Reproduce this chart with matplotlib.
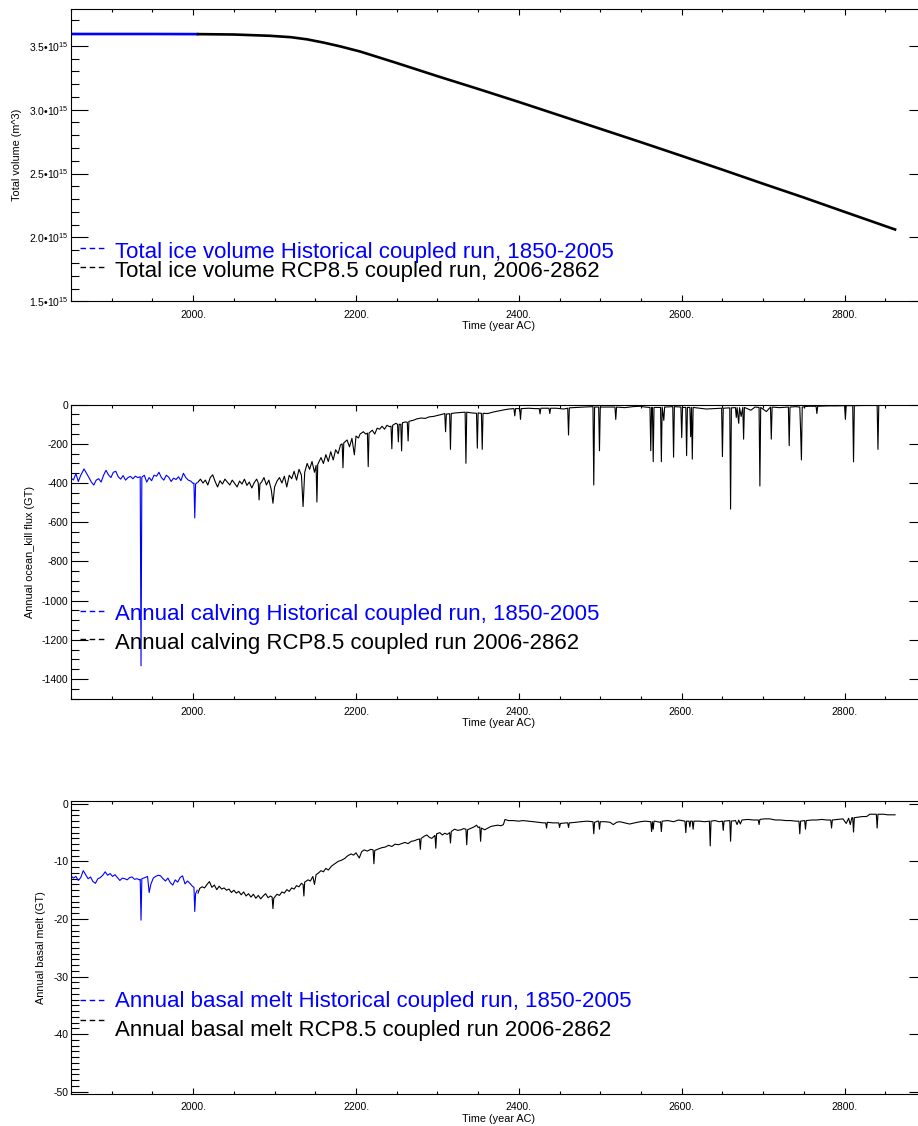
import matplotlib
matplotlib.use("Agg")
import matplotlib.pyplot as plt
import numpy as np
from matplotlib.ticker import MultipleLocator, FuncFormatter

plt.rcParams["font.family"] = ["Liberation Sans", "DejaVu Sans"]
plt.rcParams["mathtext.fontset"] = "custom"
plt.rcParams["mathtext.rm"] = "Liberation Sans"
plt.rcParams["axes.unicode_minus"] = False

BLUE = "#0000ff"
BLACK = "#000000"

# ── data ───────────────────────────────────────────────────────────────────
# total ice volume, 1e15 m^3
vol_hist_years = [1850, 1900, 1950, 2005]
vol_hist = [3.592, 3.592, 3.592, 3.591]
vol_rcp_years = [2006, 2050, 2094, 2120, 2140, 2160, 2180, 2205, 2250, 2300,
                 2350, 2400, 2450, 2500, 2550, 2600, 2650, 2700, 2750, 2800, 2862]
vol_rcp = [3.591, 3.588, 3.578, 3.567, 3.550, 3.525, 3.496, 3.455, 3.365, 3.262,
           3.162, 3.060, 2.955, 2.850, 2.745, 2.638, 2.530, 2.420, 2.312, 2.200, 2.062]

# annual calving (GT)
calv_hist_years = [1850, 1853, 1856, 1859, 1862, 1866, 1869, 1872, 1875, 1878,
                   1881, 1884, 1887, 1890, 1893, 1896, 1899, 1902, 1905, 1908,
                   1911, 1914, 1917, 1920, 1923, 1926, 1929, 1932, 1935, 1936,
                   1937, 1940, 1943, 1946, 1949, 1952, 1955, 1958, 1961, 1964,
                   1967, 1970, 1973, 1976, 1979, 1982, 1985, 1988, 1991, 1994,
                   1997, 2000, 2001, 2002, 2003, 2005]
calv_hist = [-375, -384, -352, -392, -360, -328, -350, -372, -395, -410,
             -385, -378, -395, -360, -335, -358, -372, -345, -340, -368,
             -380, -362, -385, -372, -366, -378, -365, -372, -368, -1333,
             -370, -360, -395, -372, -388, -360, -365, -345, -372, -385,
             -360, -370, -392, -375, -382, -368, -388, -350, -372, -385,
             -390, -402, -400, -578, -405, -398]

calv_rcp_years = [2006, 2009, 2012, 2015, 2018, 2021, 2024, 2027, 2030, 2033,
                  2036, 2039, 2042, 2045, 2048, 2051, 2054, 2057, 2060, 2063,
                  2066, 2069, 2072, 2075, 2078, 2080, 2081, 2082, 2084, 2087,
                  2090, 2093, 2096, 2098, 2100, 2103, 2106, 2109, 2112, 2115,
                  2118, 2121, 2124, 2127, 2130, 2133, 2135, 2137, 2140, 2143,
                  2146, 2149, 2151, 2152, 2153, 2157, 2160, 2163, 2166, 2169,
                  2172, 2175, 2178, 2181, 2183, 2184, 2185, 2189, 2192, 2195,
                  2198, 2200, 2203, 2205, 2209, 2212, 2214, 2215, 2216, 2220,
                  2223, 2226, 2229, 2232, 2235, 2238, 2241, 2243, 2244, 2245,
                  2249, 2251, 2252, 2253, 2255, 2256, 2257, 2261, 2263, 2264,
                  2265, 2270, 2275, 2280, 2285, 2290, 2295, 2300, 2305, 2309,
                  2310, 2311, 2315, 2316, 2317, 2322, 2328, 2334, 2335, 2336,
                  2342, 2348, 2349, 2350, 2354, 2355, 2356, 2362, 2368, 2375,
                  2382, 2388, 2394, 2395, 2396, 2401, 2402, 2403, 2412, 2420,
                  2425, 2426, 2427, 2437, 2438, 2439, 2446, 2455, 2460, 2461,
                  2462, 2470, 2480, 2491, 2492, 2493, 2498, 2499, 2500, 2510,
                  2518, 2519, 2520, 2530, 2540, 2549, 2555, 2561, 2562, 2563,
                  2564, 2565, 2566, 2574, 2575, 2576, 2578, 2579, 2589, 2590,
                  2591, 2599, 2600, 2601, 2605, 2606, 2607, 2610, 2611, 2612,
                  2613, 2614, 2622, 2630, 2640, 2649, 2650, 2651, 2659, 2660,
                  2661, 2666, 2667, 2668, 2670, 2671, 2673, 2675, 2676, 2677,
                  2685, 2690, 2695, 2696, 2697, 2704, 2709, 2710, 2711, 2720,
                  2731, 2732, 2733, 2740, 2745, 2746, 2747, 2748, 2755, 2765,
                  2766, 2767, 2780, 2790, 2800, 2801, 2802, 2810, 2811, 2812,
                  2825, 2835, 2840, 2841, 2842, 2850, 2862]
calv_rcp = [-395, -380, -400, -385, -410, -372, -358, -392, -420, -388,
            -405, -380, -395, -410, -385, -402, -420, -390, -405, -380,
            -412, -395, -425, -398, -380, -400, -486, -405, -395, -372,
            -410, -385, -435, -503, -420, -390, -372, -400, -365, -420,
            -360, -378, -340, -385, -330, -360, -520, -345, -300, -330,
            -290, -345, -310, -497, -305, -270, -300, -255, -290, -240,
            -282, -230, -250, -205, -200, -322, -195, -180, -215, -172,
            -256, -160, -170, -150, -138, -150, -145, -316, -145, -130,
            -150, -120, -125, -110, -125, -105, -112, -110, -225, -105,
            -95, -100, -190, -100, -100, -236, -92, -88, -90, -185,
            -85, -80, -72, -68, -70, -62, -60, -55, -50, -45,
            -138, -48, -46, -228, -45, -42, -40, -38, -299, -38,
            -42, -44, -222, -42, -44, -228, -44, -45, -38, -32,
            -26, -22, -20, -57, -20, -20, -75, -20, -18, -20,
            -20, -47, -18, -18, -45, -18, -18, -22, -18, -155,
            -16, -14, -12, -10, -410, -12, -12, -235, -12, -12,
            -12, -75, -12, -15, -10, -8, -12, -14, -235, -14,
            -14, -291, -14, -14, -291, -12, -80, -12, -10, -268,
            -10, -12, -168, -14, -14, -260, -14, -14, -163, -14,
            -278, -14, -18, -22, -20, -18, -265, -18, -16, -533,
            -16, -15, -65, -15, -95, -15, -60, -14, -176, -14,
            -28, -12, -14, -415, -14, -35, -12, -176, -12, -15,
            -12, -209, -12, -10, -12, -133, -282, -12, -8, -8,
            -45, -8, -6, -6, -5, -75, -5, -5, -292, -5,
            -4, -4, -4, -228, -4, -3, -3]

# annual basal melt (GT)
melt_hist_years = [1850, 1853, 1856, 1859, 1862, 1865, 1868, 1871, 1874, 1877,
                   1880, 1883, 1886, 1889, 1892, 1895, 1898, 1901, 1904, 1907,
                   1910, 1913, 1916, 1919, 1922, 1925, 1928, 1931, 1934, 1935,
                   1936, 1937, 1941, 1944, 1946, 1948, 1951, 1954, 1957, 1960,
                   1963, 1966, 1969, 1972, 1975, 1978, 1981, 1984, 1987, 1990,
                   1993, 1996, 1999, 2001, 2002, 2003, 2005]
melt_hist = [-12.5, -12.9, -12.6, -13.3, -12.8, -11.6, -12.3, -13.0, -12.7, -13.5,
             -13.8, -13.0, -12.8, -12.4, -11.8, -12.4, -12.1, -12.6, -12.3, -12.8,
             -13.3, -12.9, -13.0, -13.2, -12.8, -12.7, -13.1, -13.0, -13.2, -13.1,
             -20.2, -13.0, -12.8, -12.6, -15.4, -14.0, -12.9, -12.6, -12.4, -12.5,
             -13.0, -13.4, -12.9, -13.7, -14.1, -13.2, -13.6, -12.8, -12.5, -13.9,
             -13.4, -13.8, -14.3, -14.5, -18.7, -15.6, -15.0]

melt_rcp_years = [2006, 2008, 2011, 2014, 2017, 2020, 2023, 2026, 2029, 2032,
                  2035, 2038, 2041, 2044, 2047, 2050, 2053, 2056, 2059, 2062,
                  2065, 2068, 2071, 2074, 2077, 2080, 2083, 2086, 2089, 2092,
                  2095, 2097, 2098, 2099, 2103, 2106, 2109, 2112, 2115, 2118,
                  2121, 2124, 2127, 2130, 2133, 2135, 2136, 2137, 2141, 2144,
                  2147, 2149, 2151, 2154, 2157, 2160, 2163, 2166, 2170, 2174,
                  2178, 2182, 2186, 2190, 2194, 2197, 2200, 2204, 2207, 2210,
                  2214, 2218, 2221, 2222, 2223, 2228, 2232, 2236, 2240, 2244,
                  2248, 2252, 2256, 2260, 2264, 2268, 2272, 2275, 2278, 2279,
                  2280, 2284, 2287, 2290, 2293, 2296, 2297, 2298, 2299, 2303,
                  2306, 2309, 2312, 2315, 2316, 2317, 2321, 2325, 2329, 2332,
                  2335, 2336, 2337, 2342, 2345, 2348, 2350, 2352, 2353, 2354,
                  2358, 2362, 2366, 2370, 2374, 2378, 2381, 2383, 2387, 2393,
                  2400, 2405, 2412, 2418, 2424, 2430, 2433, 2434, 2435, 2442,
                  2447, 2449, 2450, 2451, 2458, 2460, 2461, 2462, 2470, 2476,
                  2484, 2491, 2492, 2493, 2497, 2498, 2499, 2500, 2506, 2512,
                  2516, 2520, 2524, 2530, 2536, 2542, 2549, 2555, 2562, 2563,
                  2564, 2565, 2566, 2567, 2573, 2574, 2575, 2576, 2583, 2590,
                  2596, 2604, 2605, 2606, 2609, 2610, 2611, 2613, 2614, 2615,
                  2622, 2628, 2634, 2635, 2636, 2641, 2646, 2650, 2651, 2652,
                  2659, 2660, 2661, 2666, 2668, 2670, 2672, 2674, 2681, 2688,
                  2694, 2695, 2696, 2702, 2708, 2715, 2721, 2728, 2734, 2740,
                  2744, 2745, 2746, 2751, 2752, 2753, 2760, 2766, 2772, 2778,
                  2783, 2784, 2785, 2792, 2798, 2802, 2805, 2807, 2809, 2810,
                  2811, 2812, 2817, 2822, 2827, 2831, 2836, 2839, 2840, 2841,
                  2848, 2853, 2862]
melt_rcp = [-15.5, -14.7, -14.4, -14.6, -14.0, -13.5, -14.5, -14.1, -14.9, -14.3,
            -14.8, -14.6, -15.0, -14.8, -15.4, -15.0, -15.5, -15.2, -15.8, -15.3,
            -16.0, -15.6, -16.2, -15.7, -16.4, -15.9, -16.5, -16.0, -15.6, -16.3,
            -16.0, -16.2, -18.2, -16.4, -15.7, -15.9, -15.3, -15.5, -14.9, -15.2,
            -14.6, -14.8, -14.2, -14.4, -13.8, -14.0, -16.0, -13.6, -13.2, -13.4,
            -12.6, -14.0, -12.3, -12.0, -11.6, -11.8, -11.2, -11.5, -10.8, -10.4,
            -10.0, -9.8, -9.5, -9.0, -8.7, -8.9, -8.5, -9.4, -8.3, -8.0,
            -8.2, -7.9, -8.0, -10.4, -8.1, -7.8, -7.6, -7.5, -7.2, -7.4,
            -7.0, -7.1, -6.9, -6.7, -6.9, -6.5, -6.4, -6.2, -6.1, -7.9,
            -6.0, -5.6, -5.4, -5.8, -6.0, -5.6, -5.5, -7.7, -5.2, -5.0,
            -5.4, -5.1, -5.3, -5.0, -6.8, -4.8, -4.4, -4.6, -4.5, -4.3,
            -4.4, -7.1, -4.5, -4.2, -4.0, -3.7, -4.1, -4.0, -6.5, -4.2,
            -4.5, -4.2, -3.9, -3.8, -3.7, -3.8, -3.6, -2.7, -2.9, -2.9,
            -3.0, -2.9, -3.0, -3.1, -3.2, -3.3, -3.3, -4.2, -3.2, -3.3,
            -3.3, -3.3, -4.1, -3.4, -3.3, -3.3, -4.1, -3.3, -3.2, -3.1,
            -3.0, -3.1, -5.2, -3.2, -3.0, -3.0, -4.4, -3.1, -3.1, -3.2,
            -3.6, -3.2, -3.1, -3.3, -3.5, -3.3, -3.1, -3.0, -3.1, -4.8,
            -3.1, -4.4, -3.0, -3.0, -3.2, -3.1, -4.8, -3.0, -2.9, -3.1,
            -2.8, -3.0, -5.0, -3.0, -3.0, -4.0, -3.0, -3.0, -4.4, -3.0,
            -3.0, -3.1, -3.0, -7.3, -3.0, -2.9, -3.1, -3.0, -4.6, -3.0,
            -2.9, -6.5, -3.0, -2.9, -3.6, -2.8, -3.5, -2.8, -2.7, -2.8,
            -2.8, -3.6, -2.7, -2.6, -2.6, -2.8, -2.8, -2.9, -2.9, -3.0,
            -3.0, -5.2, -3.0, -2.9, -4.4, -2.9, -2.8, -2.8, -2.7, -2.8,
            -2.8, -4.2, -2.8, -2.7, -2.6, -3.4, -2.5, -3.6, -2.4, -2.4,
            -4.9, -2.4, -2.3, -2.2, -2.2, -1.8, -1.8, -1.8, -4.2, -1.8,
            -1.8, -1.9, -1.9]

legend_top = ["Total ice volume Historical coupled run, 1850-2005",
              "Total ice volume RCP8.5 coupled run, 2006-2862"]
legend_mid = ["Annual calving Historical coupled run, 1850-2005",
              "Annual calving RCP8.5 coupled run 2006-2862"]
legend_bot = ["Annual basal melt Historical coupled run, 1850-2005",
              "Annual basal melt RCP8.5 coupled run 2006-2862"]

# ── figure ────────────────────────────────────────────────────────────────
W, H = 918, 1126
fig = plt.figure(figsize=(W / 100, H / 100), dpi=100)
fig.patch.set_facecolor("white")

X0, X1 = 71, 926


def panel(top_px, bot_px):
    return fig.add_axes([X0 / W, 1 - bot_px / H, (X1 - X0) / W, (bot_px - top_px) / H])


def style(ax, ymajor, yminor, ylabel, yfmt):
    ax.set_xlim(1850, 2900)
    ax.xaxis.set_major_locator(MultipleLocator(200))
    ax.xaxis.set_minor_locator(MultipleLocator(50))
    ax.xaxis.set_major_formatter(FuncFormatter(lambda v, p: f"{v:.0f}."))
    ax.yaxis.set_major_locator(MultipleLocator(ymajor))
    ax.yaxis.set_minor_locator(MultipleLocator(yminor))
    ax.yaxis.set_major_formatter(FuncFormatter(yfmt))
    ax.tick_params(which="both", direction="in", top=True, right=True,
                   width=0.8, colors="black", labelsize=7.5)
    ax.tick_params(axis="x", which="major", length=4.5, pad=6)
    ax.tick_params(axis="x", which="minor", length=2.5)
    ax.tick_params(axis="y", which="major", length=12, pad=2)
    ax.tick_params(axis="y", which="minor", length=6)
    for s in ax.spines.values():
        s.set_linewidth(0.8)
    ax.set_xlabel("Time (year AC)", fontsize=7.8, labelpad=1)
    ax.set_ylabel(ylabel, fontsize=7.8, labelpad=5)


def legend(ax, texts, dash_y, base_y):
    for txt, col, dy, by in zip(texts, [BLUE, BLACK], dash_y, base_y):
        ax.plot([0.0105, 0.0405], [dy, dy], transform=ax.transAxes, color=col,
                lw=1.0, linestyle=(0, (4.0, 2.6)), clip_on=False)
        ax.text(0.0515, by, txt, transform=ax.transAxes, color=col,
                fontsize=16, ha="left", va="baseline")


# top: total volume
ax1 = panel(8.7, 301.3)
ax1.plot(vol_hist_years, np.array(vol_hist) * 1e15, color=BLUE, lw=1.9)
ax1.plot(vol_rcp_years, np.array(vol_rcp) * 1e15, color=BLACK, lw=1.9)
ax1.set_ylim(1.5e15, 3.79e15)
style(ax1, 0.5e15, 0.1e15, "Total volume (m^3)",
      lambda v, p: f"{v / 1e15:.1f}•10$^{{15}}$")
legend(ax1, legend_top, [0.182, 0.117], [0.149, 0.084])

# middle: calving
ax2 = panel(404.7, 698.5)
ax2.plot(calv_hist_years, calv_hist, color=BLUE, lw=0.8)
ax2.plot(calv_rcp_years, calv_rcp, color=BLACK, lw=0.8)
ax2.set_ylim(-1500, 0)
style(ax2, 200, 50, "Annual ocean_kill flux (GT)", lambda v, p: f"{v:.0f}")
legend(ax2, legend_mid, [0.298, 0.2025], [0.267, 0.1675])

# bottom: basal melt
ax3 = panel(801, 1094)
ax3.plot(melt_hist_years, melt_hist, color=BLUE, lw=0.8)
ax3.plot(melt_rcp_years, melt_rcp, color=BLACK, lw=0.8)
ax3.set_ylim(-50.4, 0.5)
style(ax3, 10, 1, "Annual basal melt (GT)", lambda v, p: f"{v:.0f}")
legend(ax3, legend_bot, [0.321, 0.2526], [0.296, 0.199])

fig.savefig("out.png", dpi=100, facecolor="white")
